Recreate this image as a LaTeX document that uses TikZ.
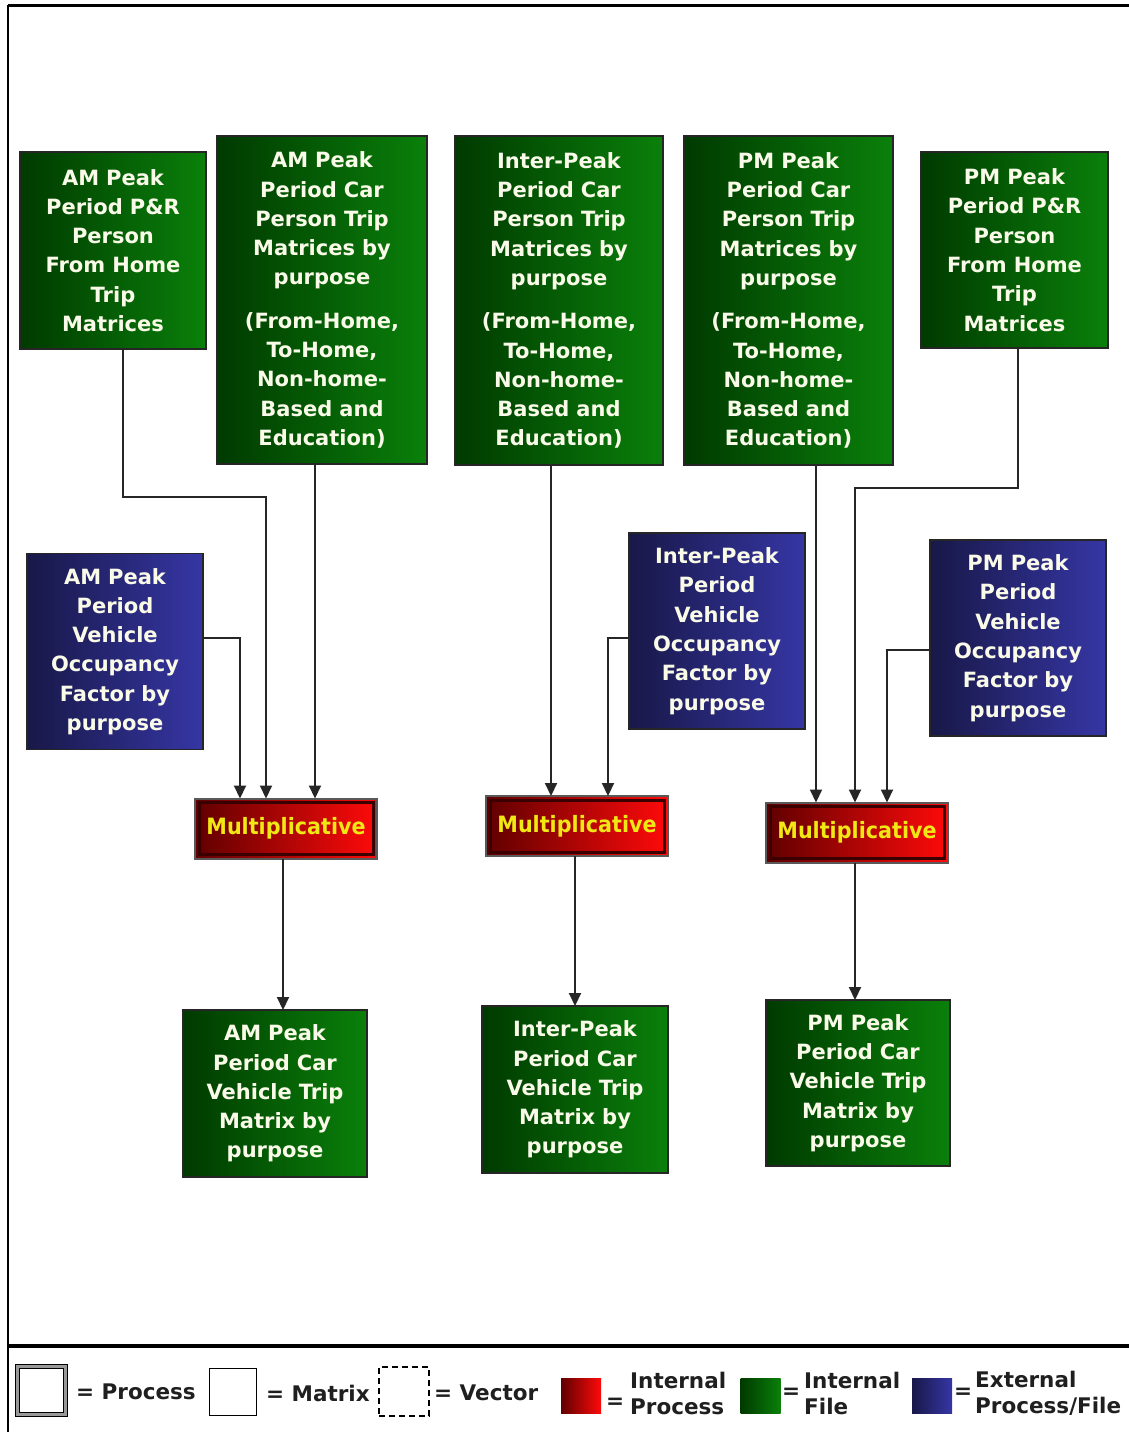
\documentclass[tikz,border=0pt]{standalone}
\usepackage{fontspec}
\setmainfont{DejaVu Sans}
\newfontfamily\multfont[FakeStretch=0.92]{DejaVu Sans}
\usetikzlibrary{arrows.meta,positioning}
\definecolor{greendark}{RGB}{0,58,0}
\definecolor{greenlight}{RGB}{10,128,10}
\definecolor{bluedark}{RGB}{24,24,72}
\definecolor{bluelight}{RGB}{54,54,165}
\definecolor{reddark}{RGB}{96,0,0}
\definecolor{redlight}{RGB}{255,10,10}
\definecolor{boxtext}{RGB}{250,250,232}
\definecolor{multtext}{RGB}{240,232,20}
\tikzstyle{box}=[draw=black!85, line width=1.5pt, inner sep=0pt, outer sep=0pt, align=center, text width=168pt, text=boxtext, font=\bfseries\fontsize{21}{29.3}\selectfont]
\tikzstyle{greenbox}=[box, left color=greendark, right color=greenlight]
\tikzstyle{bluebox}=[box, left color=bluedark, right color=bluelight]
\tikzstyle{multbox}=[box, draw=black!65, line width=2pt, left color=reddark, right color=redlight, text=multtext, font=\multfont\bfseries\fontsize{22.5}{24}\selectfont, path picture={\draw[reddark!60!black, line width=3pt] ([shift={(4pt,-4pt)}]path picture bounding box.north west) rectangle ([shift={(-4pt,4pt)}]path picture bounding box.south east);}]
\tikzstyle{link}=[-{Triangle[length=13pt,width=12pt]}, line width=2pt, black!85]
\tikzstyle{keysq}=[draw=none, minimum width=40pt, minimum height=35pt, inner sep=0pt]
\tikzstyle{keytext}=[font=\bfseries\fontsize{21.5}{26}\selectfont, text=black!88, inner sep=0pt, anchor=west, align=left]

\begin{document}
\begin{tikzpicture}[x=1pt, y=-1pt]

  \useasboundingbox (0,0) rectangle (1129,1432);
  \draw[line width=3pt] (8,5) -- (1129,5);
  \draw[line width=2.5pt] (8,5) -- (8,1432);
  \draw[line width=3.5pt] (8,1346) -- (1129,1346);

    % person trip matrices and vehicle trip matrices
    \foreach \pos/\name/\w/\h/\txt in {{(113,250.5)/ampr/186/197/{AM Peak\\Period P\&R\\Person\\From Home\\Trip\\Matrices}},
        {(322,300)/amcar/210/328/{AM Peak\\Period Car\\Person Trip\\Matrices by\\purpose\\[14pt](From-Home,\\To-Home,\\Non-home-\\Based and\\Education)}},
        {(559,300.5)/ipcar/208/329/{Inter-Peak\\Period Car\\Person Trip\\Matrices by\\purpose\\[14pt](From-Home,\\To-Home,\\Non-home-\\Based and\\Education)}},
        {(788.5,300.5)/pmcar/209/329/{PM Peak\\Period Car\\Person Trip\\Matrices by\\purpose\\[14pt](From-Home,\\To-Home,\\Non-home-\\Based and\\Education)}},
        {(1014.5,250)/pmpr/187/196/{PM Peak\\Period P\&R\\Person\\From Home\\Trip\\Matrices}},
        {(275,1093.5)/amveh/184/167/{AM Peak\\Period Car\\Vehicle Trip\\Matrix by\\purpose}},
        {(575,1089.5)/ipveh/186/167/{Inter-Peak\\Period Car\\Vehicle Trip\\Matrix by\\purpose}},
        {(858,1083)/pmveh/184/166/{PM Peak\\Period Car\\Vehicle Trip\\Matrix by\\purpose}}}
        \node[greenbox, minimum width=\w, minimum height=\h] (\name) at \pos {\txt};

    % occupancy factors
    \foreach \pos/\name/\txt in {{(115,651.5)/amvof/{AM Peak}}, {(717,631)/ipvof/{Inter-Peak}}, {(1018,638)/pmvof/{PM Peak}}}
        \node[bluebox, minimum width=176, minimum height=196] (\name) at \pos {\txt\\Period\\Vehicle\\Occupancy\\Factor by\\purpose};

    \foreach \pos/\name in {{(286,828.5)/ammult}, {(577,826)/ipmult}, {(857,832.5)/pmmult}}
        \node[multbox, minimum width=182, minimum height=60] (\name) at \pos {Multiplicative};

    % straight links
    \foreach \source/\sx/\dest/\dx in {amcar/-7/ammult/29, ammult/-3/amveh/8, ipcar/-8/ipmult/-26, ipmult/-2/ipveh/0, pmcar/27.5/pmmult/-41, pmmult/-2/pmveh/-3}
        \draw[link] ([xshift=\sx pt]\source.south) -- ([xshift=\dx pt]\dest.north);

    \draw[link] ([xshift=10pt]ampr.south) -- ++(0,148) -| ([xshift=-20pt]ammult.north);
    \draw[link] ([yshift=13.5pt]amvof.east) -| ([xshift=-46pt]ammult.north);
    \draw[link] ([yshift=-7pt]ipvof.west) -| ([xshift=31pt]ipmult.north);
    \draw[link] ([xshift=3.5pt]pmpr.south) -- ++(0,140) -| ([xshift=-2pt]pmmult.north);
    \draw[link] ([yshift=-12pt]pmvof.west) -| ([xshift=30pt]pmmult.north);

    % legend
    \node[draw=black, line width=1.5pt, double=black!40, double distance=2.5pt, fill=white, minimum size=48pt, inner sep=0pt] (keyproc) at (41.5,1390.5) {};
    \node[keytext] (keyproctext) at (76,1392) {= Process};
    \node[draw=black, line width=1.5pt, minimum size=47pt, inner sep=0pt] (keymat) at (233,1392) {};
    \node[keytext] (keymattext) at (266,1393) {= Matrix};
    \node[draw=black, line width=1.5pt, dash pattern=on 6pt off 4pt, minimum width=50pt, minimum height=49pt, inner sep=0pt] (keyvec) at (404,1391.5) {};
    \node[keytext] (keyvectext) at (434,1393) {= Vector};

    \node[keysq, left color=reddark, right color=redlight] (keyred) at (581,1395.5) {};
    \node[keytext] (keyredeq) at (606,1403) {=};
    \node[keytext] (keyredtext) at (630,1393) {Internal\\Process};
    \node[keysq, left color=greendark, right color=greenlight] (keygreen) at (760.5,1395.5) {};
    \node[keytext] (keygreeneq) at (782,1393) {=};
    \node[keytext] (keygreentext) at (804,1393) {Internal\\File};
    \node[keysq, left color=bluedark, right color=bluelight] (keyblue) at (932,1395.5) {};
    \node[keytext] (keyblueeq) at (954,1393) {=};
    \node[keytext] (keybluetext) at (975,1393) {External\\Process/File};

\end{tikzpicture}
\end{document}
